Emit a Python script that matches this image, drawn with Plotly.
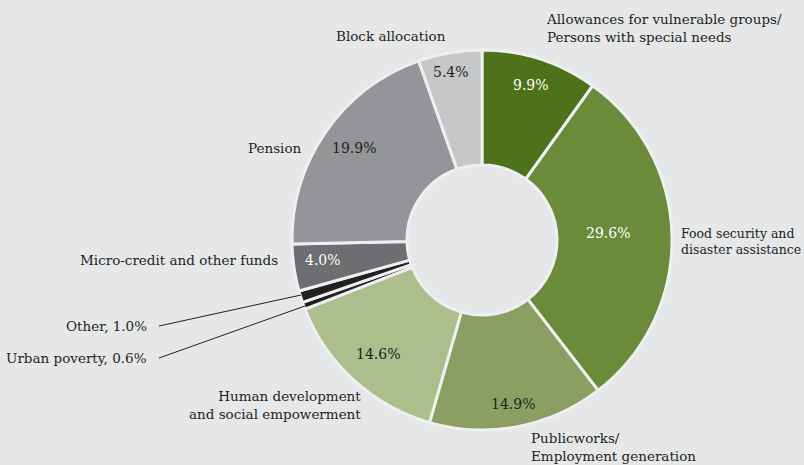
import plotly.graph_objects as go

# Programme shares of the safety-net budget (percent), clockwise from 12 o'clock
categories = [
    "Allowances for vulnerable groups/<br>Persons with special needs",
    "Food security and<br>disaster assistance",
    "Publicworks/<br>Employment generation",
    "Human development<br>and social empowerment",
    "Urban poverty",
    "Other",
    "Micro-credit and other funds",
    "Pension",
    "Block allocation",
]
shares = [9.9, 29.6, 14.9, 14.6, 0.6, 1.0, 4.0, 19.9, 5.4]
slice_colors = ["#4d7219", "#6a8b3a", "#8c9f63", "#acbe8b", "#231f20",
                "#231f20", "#6d6e71", "#939598", "#c6c7c9"]
value_text_colors = ["white", "white", "#231f20", "#231f20", None,
                     None, "white", "#231f20", "#231f20"]

W, H = 804, 465
BG = "#e6e7e8"
FONT = "DejaVu Serif"
INK = "#231f20"
FS = 13.5
FS_VAL = 14

cx, cy, R = 482, 240, 190

fig = go.Figure(go.Pie(
    labels=categories,
    values=shares,
    sort=False,
    direction="clockwise",
    rotation=0,
    hole=0.395,
    marker=dict(colors=slice_colors, line=dict(color="#eeeff0", width=3)),
    textinfo="none",
    hoverinfo="label+percent",
    domain=dict(x=[(cx - R) / W, (cx + R) / W],
                y=[1 - (cy + R) / H, 1 - (cy - R) / H]),
    showlegend=False,
))


def px(x):
    return x / W


def py(y):
    return 1 - y / H


annotations = []

# Percentages printed inside the slices
value_pos = {0: (531, 85), 1: (608, 233), 2: (513, 404), 3: (378, 354),
             6: (323, 260), 7: (354, 148), 8: (451, 72)}
for i, (x, y) in value_pos.items():
    annotations.append(dict(
        x=px(x), y=py(y), xref="paper", yref="paper", showarrow=False,
        text=f"{shares[i]:.1f}%", xanchor="center", yanchor="middle",
        font=dict(family=FONT, size=FS_VAL, color=value_text_colors[i])))

# Category names around the ring: (index, x, y, font size)
name_pos = [
    (0, 544, 28, FS, "left"),
    (1, 679, 242, 12.5, "left"),
    (2, 529, 447, FS, "left"),
    (3, 363, 405, FS, "right"),
    (6, 280, 260, FS, "right"),
    (7, 304, 148, FS, "right"),
    (8, 448, 36, FS, "right"),
]
for i, x, y, size, anchor in name_pos:
    annotations.append(dict(
        x=px(x), y=py(y), xref="paper", yref="paper", showarrow=False,
        text=categories[i], xanchor=anchor, yanchor="middle", align=anchor,
        font=dict(family=FONT, size=size, color=INK)))

# Thin slices labelled with leader lines
leaders = [
    (5, (149, 326), (159, 326), (301, 295)),
    (4, (149, 358), (159, 358), (305, 306)),
]
shapes = []
for i, (tx, ty), (x0, y0), (x1, y1) in leaders:
    annotations.append(dict(
        x=px(tx), y=py(ty), xref="paper", yref="paper", showarrow=False,
        text=f"{categories[i]}, {shares[i]:.1f}%", xanchor="right",
        yanchor="middle", font=dict(family=FONT, size=FS, color=INK)))
    shapes.append(dict(type="line", xref="paper", yref="paper",
                       x0=px(x0), y0=py(y0), x1=px(x1), y1=py(y1),
                       line=dict(color=INK, width=1)))

fig.update_layout(
    width=W, height=H,
    margin=dict(l=0, r=0, t=0, b=0),
    paper_bgcolor=BG, plot_bgcolor=BG,
    font=dict(family=FONT, size=FS, color=INK),
    annotations=annotations,
    shapes=shapes,
)

fig.write_html("out.html")
